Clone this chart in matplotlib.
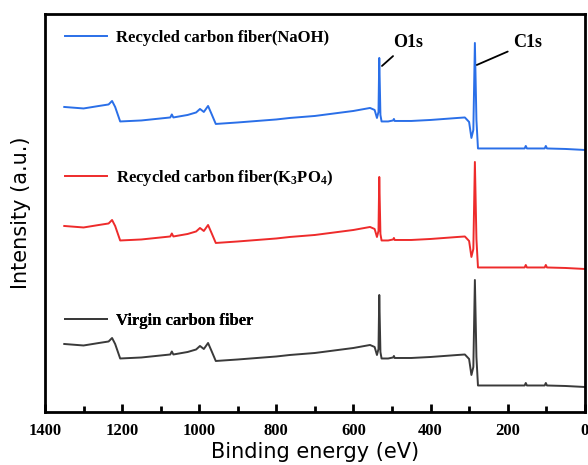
import matplotlib
matplotlib.use("Agg")
import matplotlib.pyplot as plt
from matplotlib.ticker import MultipleLocator

plt.rcParams['mathtext.fontset'] = 'custom'
plt.rcParams['mathtext.rm'] = 'Liberation Serif:bold'
plt.rcParams['mathtext.it'] = 'Liberation Serif:bold'
plt.rcParams['mathtext.bf'] = 'Liberation Serif:bold'

energy = [1350, 1300, 1260, 1235, 1226, 1218, 1205, 1150, 1100, 1075, 1071, 1067, 1030, 1008,
          998, 988, 977, 968, 957, 900, 800, 765, 700, 600, 557, 545, 539, 535, 533, 530, 527,
          510, 497, 495, 493, 450, 400, 330, 311, 300, 294, 289, 285, 281, 277, 250, 200, 156,
          153, 150, 104, 101, 98, 50, 0]

naoh = [305, 303.5, 306, 307.5, 311, 305, 290.5, 291.5, 293.5, 294.5, 297.5, 294.5, 297, 299.5,
        303, 300, 306, 298, 288, 289.5, 292.5, 294, 296, 301, 304, 302, 294, 300, 354, 297, 290.5,
        290.5, 291.5, 293, 291, 291, 292, 294, 294.5, 290, 274, 282, 369, 292, 263.5, 263.5, 263.5,
        263.5, 266, 263.5, 263.5, 266, 263.5, 263, 262]

k3po4 = [186, 184.5, 187, 188.5, 192, 186, 171.5, 172.5, 174.5, 175.5, 178.5, 175.5, 178, 180.5,
         184, 181, 187, 179, 169, 170.5, 173.5, 175, 177, 182, 185, 183, 175, 181, 235, 178, 171.5,
         171.5, 172.5, 174, 172, 172, 173, 175, 175.5, 171, 155, 163, 250, 173, 144.5, 144.5, 144.5,
         144.5, 147, 144.5, 144.5, 147, 144.5, 144, 143]

virgin = [68, 66.5, 69, 70.5, 74, 68, 53.5, 54.5, 56.5, 57.5, 60.5, 57.5, 60, 62.5,
          66, 63, 69, 61, 51, 52.5, 55.5, 57, 59, 64, 67, 65, 57, 63, 117, 60, 53.5,
          53.5, 54.5, 56, 54, 54, 55, 57, 57.5, 53, 37, 45, 132, 55, 26.5, 26.5, 26.5,
          26.5, 29, 26.5, 26.5, 29, 26.5, 26, 25]

labels = ["Recycled carbon fiber(NaOH)", "Recycled carbon fiber(K$_3$PO$_4$)", "Virgin carbon fiber"]
colors = ["#2a6fe8", "#ee2b2b", "#3a3a3a"]

fig = plt.figure(figsize=(5.88, 4.65), dpi=100)
ax = fig.add_axes([0.0765, 0.114, 0.918, 0.856])

series = [naoh, k3po4, virgin]
lines = []
for s, c in zip(series, colors):
    ln, = ax.plot(energy, s, color=c, lw=1.4)
    lines.append(ln)

ax.set_xlim(1400, 0)
ax.set_ylim(0, 398)
ax.set_yticks([])
ax.xaxis.set_major_locator(MultipleLocator(200))
ax.xaxis.set_minor_locator(MultipleLocator(100))
ax.tick_params(axis='x', which='major', direction='in', length=6, width=2, pad=8)
ax.tick_params(axis='x', which='minor', direction='in', length=4, width=2)
for sp in ax.spines.values():
    sp.set_linewidth(2)

for lab in ax.get_xticklabels():
    lab.set_fontfamily("Liberation Serif")
    lab.set_fontweight("bold")
    lab.set_fontsize(12)

ax.set_xlabel("Binding energy (eV)", fontsize=15, labelpad=2)
ax.set_ylabel("Intensity (a.u.)", fontsize=15, labelpad=10)

prop = dict(family="Liberation Serif", weight="bold", size=12)
anchors = [0.940, 0.588, 0.229]
for ln, lab, ya in zip(lines, labels, anchors):
    leg = ax.legend([ln], [lab], loc="center left", bbox_to_anchor=(0.037, ya), frameon=False,
                    prop=prop, borderpad=0, borderaxespad=0, handlelength=2.5, handletextpad=0.55)
    ax.add_artist(leg)

ann = dict(family="Liberation Serif", weight="bold", size=13)
ax.annotate("O1s", xy=(526, 346), xytext=(498, 369), ha="left", va="center",
            arrowprops=dict(arrowstyle="-", color="black", lw=1.3, shrinkA=2, shrinkB=0), **ann)
ax.annotate("C1s", xy=(280, 347), xytext=(186, 369), ha="left", va="center",
            arrowprops=dict(arrowstyle="-", color="black", lw=1.3, shrinkA=2, shrinkB=0), **ann)

fig.savefig("out.png", dpi=100)
